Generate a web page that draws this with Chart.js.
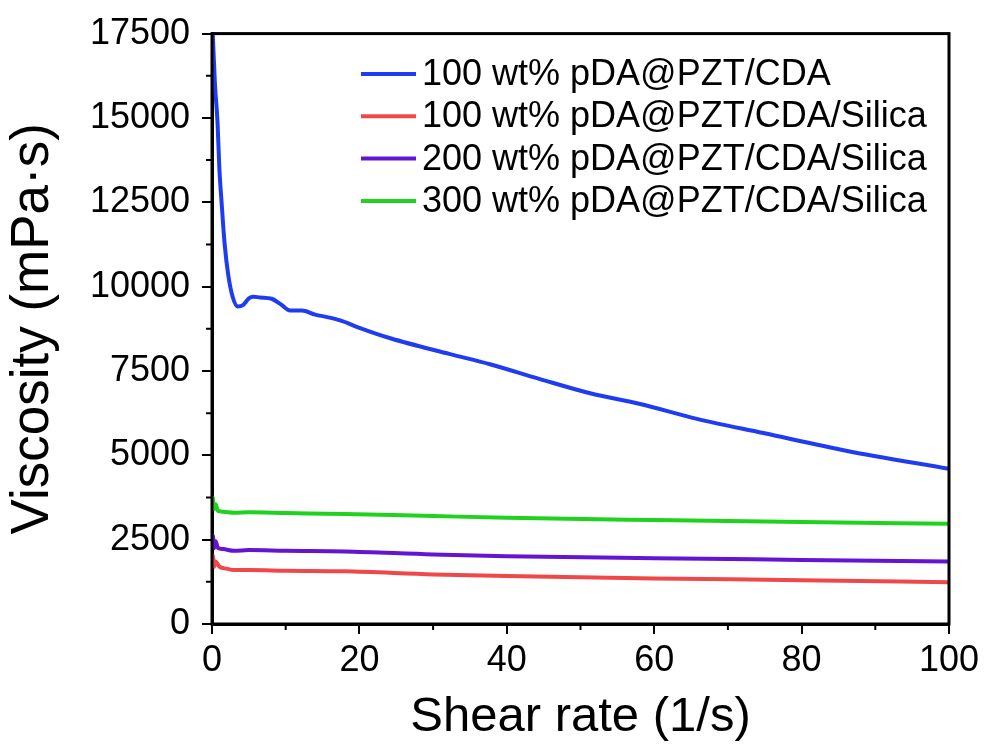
<!DOCTYPE html>
<html lang="en">
<head>
  <meta charset="UTF-8">
  <title>Viscosity vs shear rate</title>
  <style>
    html, body { margin: 0; padding: 0; background: #fff; }
    #wrap { width: 989px; height: 747px; }
  </style>
</head>
<body>
  <div id="wrap"><canvas id="chart" width="989" height="747"></canvas></div>

  <script src="https://cdn.jsdelivr.net/npm/chart.js"></script>
  <script>
    // data
    const seriesLabels = [
      '100 wt% pDA@PZT/CDA',
      '100 wt% pDA@PZT/CDA/Silica',
      '200 wt% pDA@PZT/CDA/Silica',
      '300 wt% pDA@PZT/CDA/Silica'
    ];
    const xBlue = [0.1, 0.4, 0.75, 1.0, 1.3, 1.7, 2.2, 2.8, 3.5, 4.2, 5.0, 5.6, 6.5, 8.1, 9.3, 10.6, 12.2, 14, 15.8, 17.4, 20, 24.2, 32.3, 37.7, 44.5, 51.3, 58.1, 65.8, 74.8, 86.2, 100];
    const yBlue = [17500, 16000, 14870, 13500, 12500, 11300, 10350, 9700, 9410, 9450, 9650, 9700, 9680, 9640, 9480, 9290, 9290, 9170, 9090, 9000, 8780, 8470, 8000, 7700, 7260, 6840, 6520, 6080, 5660, 5130, 4600];
    const xRed = [0, 0.1, 0.3, 0.5, 1, 2, 3, 5, 10, 18, 30, 40, 60, 80, 100];
    const yRed = [1800, 2030, 1700, 1850, 1700, 1640, 1600, 1600, 1580, 1560, 1470, 1420, 1350, 1300, 1235];
    const xPurple = [0, 0.1, 0.3, 0.5, 0.8, 1.5, 3, 5, 10, 18, 30, 40, 60, 80, 100];
    const yPurple = [2400, 2620, 2250, 2450, 2250, 2220, 2170, 2190, 2170, 2150, 2060, 2010, 1950, 1900, 1850];
    const xGreen = [0, 0.1, 0.25, 0.5, 0.8, 1.5, 3, 5, 10, 18, 30, 40, 60, 80, 100];
    const yGreen = [3600, 3750, 3400, 3550, 3350, 3330, 3300, 3310, 3290, 3260, 3200, 3150, 3080, 3020, 2970];
    const colors = ['#1f3cf2', '#f04848', '#6414d2', '#1ed21e'];

    const FONT = '"Liberation Sans", Arial, sans-serif';

    function pts(xs, ys) {
      return xs.map((x, i) => ({ x: x, y: ys[i] }));
    }

    // box + minor ticks + legend inside the plot
    const framePlugin = {
      id: 'frame',
      afterDraw(chart) {
        const ctx = chart.ctx;
        const a = chart.chartArea;
        const xs = chart.scales.x, ys = chart.scales.y;
        ctx.save();
        ctx.strokeStyle = '#000';
        ctx.lineWidth = 3;
        ctx.strokeRect(a.left, a.top, a.right - a.left, a.bottom - a.top);
        ctx.lineWidth = 2;
        ctx.beginPath();
        for (let v = 10; v < 100; v += 20) {
          const px = xs.getPixelForValue(v);
          ctx.moveTo(px, a.bottom);
          ctx.lineTo(px, a.bottom + 6);
        }
        for (let v = 1250; v < 17500; v += 2500) {
          const py = ys.getPixelForValue(v);
          ctx.moveTo(a.left, py);
          ctx.lineTo(a.left - 6, py);
        }
        ctx.stroke();

        ctx.font = '36px ' + FONT;
        ctx.textBaseline = 'middle';
        ctx.fillStyle = '#000';
        chart.data.datasets.forEach((ds, i) => {
          const y = 74 + i * 42.3;
          ctx.strokeStyle = ds.borderColor;
          ctx.lineWidth = 4;
          ctx.beginPath();
          ctx.moveTo(361, y);
          ctx.lineTo(416, y);
          ctx.stroke();
          ctx.fillText(ds.label, 422, y + 1);
        });
        ctx.restore();
      }
    };

    const datasets = [
      pts(xBlue, yBlue), pts(xRed, yRed), pts(xPurple, yPurple), pts(xGreen, yGreen)
    ].map((d, i) => ({
      label: seriesLabels[i],
      data: d,
      borderColor: colors[i],
      backgroundColor: colors[i],
      borderWidth: 4,
      pointRadius: 0,
      showLine: true,
      cubicInterpolationMode: 'monotone'
    }));

    new Chart(document.getElementById('chart').getContext('2d'), {
      type: 'scatter',
      data: { datasets: datasets },
      options: {
        responsive: false,
        animation: false,
        layout: { padding: { left: 2, top: 31, right: 40, bottom: 0 } },
        plugins: {
          legend: { display: false },
          tooltip: { enabled: false }
        },
        scales: {
          x: {
            type: 'linear',
            min: 0, max: 100,
            ticks: { stepSize: 20, color: '#000', font: { family: FONT, size: 36 }, padding: 5, maxRotation: 0,
                     callback: v => String(v) },
            grid: { drawOnChartArea: false, drawTicks: true, tickLength: 10, color: '#000', lineWidth: 2 },
            border: { display: true, color: '#000', width: 3 },
            title: { display: true, text: 'Shear rate (1/s)', color: '#000', font: { family: FONT, size: 49 }, padding: { top: 0, bottom: 0 } },
            afterFit(scale) { scale.height = 123; }
          },
          y: {
            min: 0, max: 17500,
            ticks: { stepSize: 2500, color: '#000', font: { family: FONT, size: 36 }, padding: 12,
                     callback: v => String(v) },
            grid: { drawOnChartArea: false, drawTicks: true, tickLength: 10, color: '#000', lineWidth: 2 },
            border: { display: true, color: '#000', width: 3 },
            title: { display: true, text: 'Viscosity (mPa·s)', color: '#000', font: { family: FONT, size: 53 }, padding: { top: 0, bottom: 0 } },
            afterFit(scale) { scale.width = 210; }
          }
        }
      },
      plugins: [framePlugin]
    });
  </script>
</body>
</html>
